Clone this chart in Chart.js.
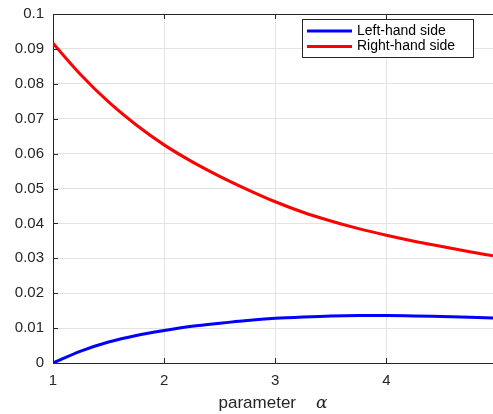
<!DOCTYPE html>
<html>
<head>
<meta charset="utf-8">
<script src="https://cdn.jsdelivr.net/npm/chart.js@4"></script>
<style>
  html, body { margin: 0; padding: 0; background: #fff; }
  #wrap { width: 493px; height: 414px; }
</style>
</head>
<body>
<div id="wrap"><canvas id="chart" width="493" height="414"></canvas></div>
<script>
// values
const alpha = [1, 1.25, 1.5, 1.75, 2, 2.25, 2.5, 2.75, 3, 3.25, 3.5, 3.75, 4, 4.25, 4.5, 4.75, 4.96];
const leftHandSide = [0, 0.0034, 0.0060, 0.0079, 0.0093, 0.0105, 0.0114, 0.0122, 0.0128, 0.0132, 0.0135, 0.0136, 0.0136, 0.0135, 0.0133, 0.0131, 0.0129];
const rightHandSide = [0.0916, 0.0826, 0.0748, 0.0682, 0.0625, 0.0577, 0.0535, 0.0497, 0.0462, 0.0432, 0.0407, 0.0385, 0.0366, 0.0349, 0.0334, 0.0319, 0.0307];
const seriesNames = ["Left-hand side", "Right-hand side"];
const xTicks = [1, 2, 3, 4];
const yTicks = [0, 0.01, 0.02, 0.03, 0.04, 0.05, 0.06, 0.07, 0.08, 0.09, 0.1];

const FONT = "'Liberation Sans', Arial, sans-serif";
const AXIS = "#262626";

// box top line, inward tick marks, legend box and x title
const decor = {
  id: "decor",
  afterDraw(chart) {
    const { ctx, chartArea: a, scales } = chart;
    ctx.save();
    ctx.strokeStyle = AXIS;
    ctx.lineWidth = 1;
    ctx.beginPath();
    ctx.moveTo(a.left, a.top + 0.5);
    ctx.lineTo(a.right, a.top + 0.5);
    xTicks.forEach(v => {
      const px = Math.round(scales.x.getPixelForValue(v)) + 0.5;
      ctx.moveTo(px, a.bottom); ctx.lineTo(px, a.bottom - 5);
      ctx.moveTo(px, a.top); ctx.lineTo(px, a.top + 5);
    });
    yTicks.forEach(v => {
      const py = Math.round(scales.y.getPixelForValue(v)) + 0.5;
      ctx.moveTo(a.left, py); ctx.lineTo(a.left + 5, py);
    });
    ctx.stroke();

    // legend
    const lx = 302, ly = 19, lw = 171, lh = 38;
    ctx.fillStyle = "#fff";
    ctx.fillRect(lx, ly, lw, lh);
    ctx.strokeStyle = AXIS;
    ctx.strokeRect(lx + 0.5, ly + 0.5, lw, lh);
    chart.data.datasets.forEach((ds, i) => {
      const y = ly + 12 + i * 15.5;
      ctx.strokeStyle = ds.borderColor;
      ctx.lineWidth = 3;
      ctx.beginPath();
      ctx.moveTo(lx + 5, y); ctx.lineTo(lx + 50, y);
      ctx.stroke();
      ctx.fillStyle = "#000";
      ctx.font = "14px " + FONT;
      ctx.textBaseline = "middle";
      ctx.textAlign = "left";
      ctx.fillText(ds.label, lx + 55, y);
    });

    // x axis title: "parameter" + italic alpha
    ctx.fillStyle = "#262626";
    ctx.textBaseline = "alphabetic";
    ctx.font = "17px " + FONT;
    const t1 = "parameter";
    const w1 = ctx.measureText(t1).width;
    ctx.font = "italic 17px 'DejaVu Serif', serif";
    const w2 = ctx.measureText("\u03b1").width;
    const gap = 20;
    const sx = (a.left + a.right) / 2 - (w1 + gap + w2) / 2;
    ctx.font = "17px " + FONT;
    ctx.fillText(t1, sx, 408);
    ctx.font = "italic 17px 'DejaVu Serif', serif";
    ctx.fillText("\u03b1", sx + w1 + gap, 408);
    ctx.restore();
  }
};

new Chart(document.getElementById("chart"), {
  type: "line",
  data: {
    labels: alpha,
    datasets: [
      { label: seriesNames[0], data: alpha.map((x, i) => ({ x, y: leftHandSide[i] })), borderColor: "#0000ff", backgroundColor: "#0000ff" },
      { label: seriesNames[1], data: alpha.map((x, i) => ({ x, y: rightHandSide[i] })), borderColor: "#ff0000", backgroundColor: "#ff0000" }
    ]
  },
  options: {
    responsive: false,
    animation: false,
    layout: { padding: { top: 14, right: 0, left: 0, bottom: 0 } },
    elements: {
      point: { radius: 0 },
      line: { borderWidth: 3, cubicInterpolationMode: "monotone" }
    },
    plugins: { legend: { display: false }, tooltip: { enabled: false } },
    scales: {
      x: {
        type: "linear",
        min: 1,
        max: 4.96,
        afterBuildTicks: s => { s.ticks = xTicks.map(v => ({ value: v })); },
        afterFit: s => { s.height = 51; s.paddingLeft = 0; s.paddingRight = 0; },
        grid: { color: "#e3e3e3", drawTicks: false },
        border: { color: AXIS, width: 1 },
        ticks: { color: "#262626", font: { family: FONT, size: 15 }, padding: 9, maxRotation: 0 }
      },
      y: {
        min: 0,
        max: 0.1,
        afterBuildTicks: s => { s.ticks = yTicks.map(v => ({ value: v })); },
        afterFit: s => { s.width = 53; s.paddingTop = 0; s.paddingBottom = 0; },
        grid: { color: "#e3e3e3", drawTicks: false },
        border: { color: AXIS, width: 1 },
        ticks: {
          color: "#262626",
          font: { family: FONT, size: 15 },
          padding: 9,
          callback: v => String(Math.round(v * 100) / 100)
        }
      }
    }
  },
  plugins: [decor]
});
</script>
</body>
</html>
